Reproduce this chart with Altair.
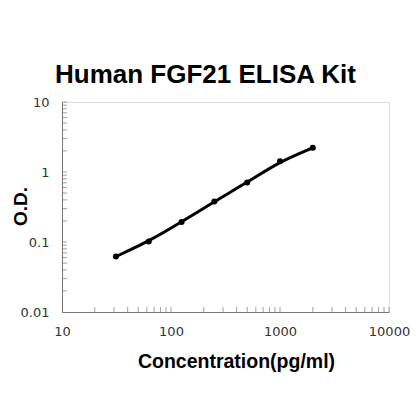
import altair as alt
import pandas as pd

conc = [31.25, 62.5, 125, 250, 500, 1000, 2000]
od = [0.062, 0.102, 0.193, 0.38, 0.71, 1.42, 2.22]

x_minor = [20, 30, 40, 50, 60, 70, 80, 90, 100,
           200, 300, 400, 500, 600, 700, 800, 900, 1000,
           2000, 3000, 4000, 5000, 6000, 7000, 8000, 9000, 10000]
y_minor = [0.02, 0.03, 0.04, 0.05, 0.06, 0.07, 0.08, 0.09, 0.1,
           0.2, 0.3, 0.4, 0.5, 0.6, 0.7, 0.8, 0.9, 1,
           2, 3, 4, 5, 6, 7, 8, 9, 10]
x_labels = [10, 100, 1000, 10000]
y_labels = [0.01, 0.1, 1, 10]

df = pd.DataFrame({"conc": conc, "od": od})
dfx = pd.DataFrame({"t": x_minor})
dfy = pd.DataFrame({"t": y_minor})

xscale = alt.Scale(type="log", domain=[10, 10000], nice=False)
yscale = alt.Scale(type="log", domain=[0.01, 10], nice=False)

xaxis = alt.Axis(values=x_labels, format="~g", grid=False, ticks=False, labelFlush=False,
                 domainColor="#777", labelColor="#333", labelFont="DejaVu Sans",
                 labelFontSize=13, labelPadding=13,
                 title="Concentration(pg/ml)", titleFont="Liberation Sans",
                 titleFontSize=19.5, titleFontWeight="bold", titleColor="black",
                 titleX=174, titleY=55, titleBaseline="alphabetic", titleAnchor="middle")
yaxis = alt.Axis(values=y_labels, format="~g", grid=False, ticks=False, labelFlush=False,
                 domainColor="#777", labelColor="#333", labelFont="DejaVu Sans",
                 labelFontSize=13, labelPadding=13,
                 title="O.D.", titleFont="Liberation Sans",
                 titleFontSize=19, titleFontWeight="bold", titleColor="black",
                 titleX=-42, titleY=104, titleBaseline="middle", titleAlign="center",
                 titleAngle=270)

base = alt.Chart(df)
line = base.mark_line(color="black", strokeWidth=3, interpolate="basis").encode(
    x=alt.X("conc:Q", scale=xscale, axis=xaxis),
    y=alt.Y("od:Q", scale=yscale, axis=yaxis),
)
pts = base.mark_point(filled=True, color="black", size=36, opacity=1).encode(
    x="conc:Q", y="od:Q"
)
xt = alt.Chart(dfx).mark_tick(orient="vertical", size=5, thickness=1, color="#777",
                              yOffset=-2.5).encode(
    x=alt.X("t:Q"), y=alt.datum(0.01)
)
yt = alt.Chart(dfy).mark_tick(orient="horizontal", size=5, thickness=1, color="#777",
                              xOffset=2.5).encode(
    y=alt.Y("t:Q"), x=alt.datum(10)
)

chart = alt.layer(xt, yt, line, pts).properties(
    width=327, height=210,
    title=alt.TitleParams("Human FGF21 ELISA Kit", font="Liberation Sans", fontSize=26,
                          fontWeight="bold", color="black", anchor="middle", dx=-20,
                          offset=8),
    autosize=alt.AutoSizeParams(type="none"),
    padding={"left": 54, "top": 94, "right": 23, "bottom": 100},
).configure_view(stroke=None).configure(background="white")

chart.save("out.html", embed_options={"renderer": "svg", "actions": False})
